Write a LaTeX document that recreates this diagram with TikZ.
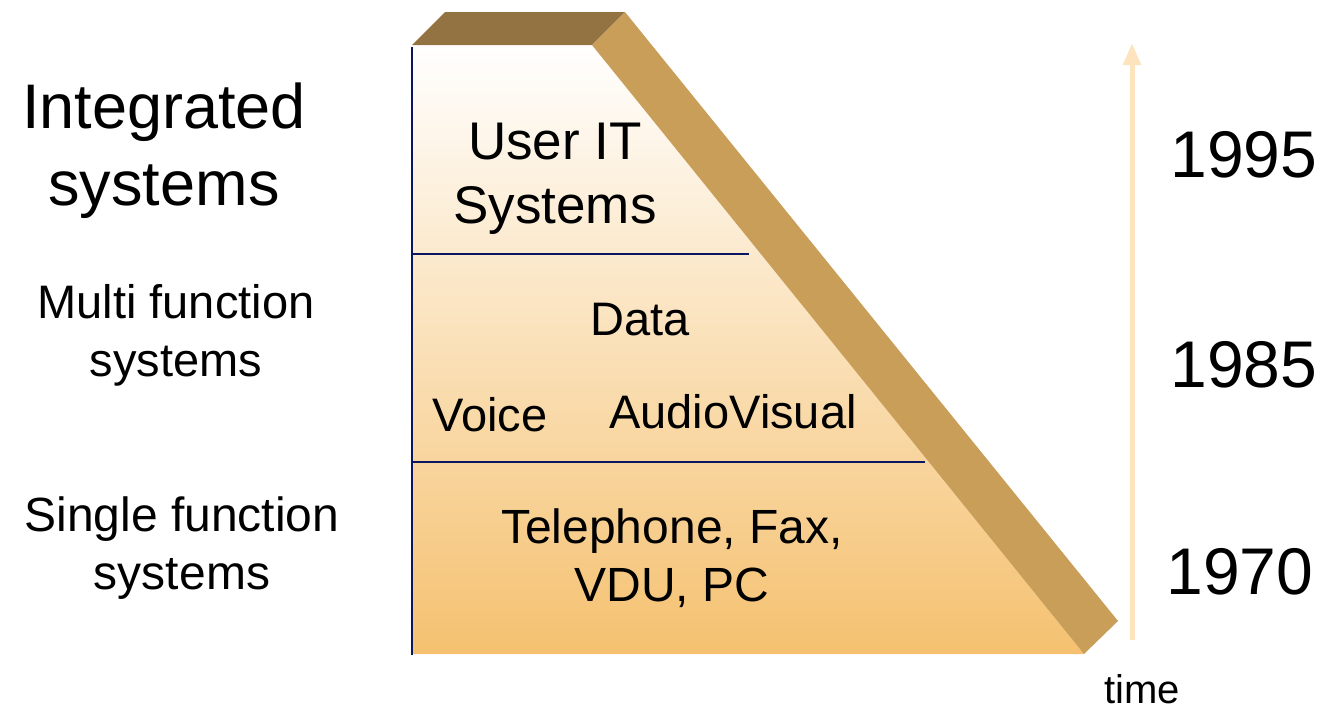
\documentclass[tikz,border=0pt]{standalone}
\usepackage{fontspec}
\setmainfont{Liberation Sans}
\usetikzlibrary{arrows.meta,positioning}
\definecolor{bevel}{HTML}{937341}
\definecolor{slab}{HTML}{C99E58}
\definecolor{peach}{HTML}{F5C170}
\definecolor{rulecol}{HTML}{0B1660}
\definecolor{timeline}{HTML}{FDE3BE}
\tikzset{
  bigtxt/.style={align=center,font=\fontsize{63}{77}\selectfont,inner sep=0pt},
  sidetxt/.style={align=center,font=\fontsize{47}{58}\selectfont,inner sep=0pt},
  intxt/.style={align=center,font=\fontsize{47}{62}\selectfont,inner sep=0pt},
  yeartxt/.style={font=\fontsize{66}{70}\selectfont,inner sep=0pt},
  divider/.style={draw=rulecol,line width=2.5pt}
}
\begin{document}
\begin{tikzpicture}[x=1pt,y=-1pt]
\useasboundingbox (0,0) rectangle (1341,707);
% wedge, lid and slanted side
\shade[top color=white,bottom color=peach] (412,45) -- (592,45) -- (1084,654) -- (412,654) -- cycle;
\fill[bevel] (412,45) -- (445,12) -- (625,12) -- (592,45) -- cycle;
\fill[slab] (592,45) -- (625,12) -- (1118,621) -- (1084,654) -- cycle;
% dividers
\coordinate (lt) at (412,47); \coordinate (lb) at (412,655);
\coordinate (d1l) at (412,254); \coordinate (d1r) at (749,254);
\coordinate (d2l) at (412,462); \coordinate (d2r) at (925,462);
\draw[divider] (lt) -- (lb);
\draw[divider] (d1l) -- (d1r);
\draw[divider] (d2l) -- (d2r);
% time axis
\coordinate (tb) at (1132,640); \coordinate (tt) at (1132,43);
\draw[timeline,line width=5pt,-{Triangle[width=17pt,length=22pt]}] (tb) -- (tt);
% labels
\node[bigtxt] (integ) at (164,151) {Integrated\\systems};
\node[sidetxt] (multi) at (176,335) {Multi function\\systems};
\node[sidetxt,font=\fontsize{48}{58}\selectfont] (single) at (182,548) {Single function\\systems};
\node[intxt,font=\fontsize{53}{64}\selectfont] (userit) at (555,179) {User IT\\Systems};
\node[intxt] (data) at (640,320) {Data};
\node[intxt] (voice) at (490,415) {Voice};
\node[intxt] (av) at (733,412) {AudioVisual};
\node[intxt,font=\fontsize{48}{58}\selectfont] (tel) at (672,558) {Telephone, Fax,\\VDU, PC};
\node[yeartxt] (y95) at (1244,155) {1995};
\node[yeartxt] (y85) at (1244,365) {1985};
\node[yeartxt] (y70) at (1240,572) {1970};
\node[font=\fontsize{40}{42}\selectfont,inner sep=0pt] (time) at (1142,689) {time};
\end{tikzpicture}
\end{document}
